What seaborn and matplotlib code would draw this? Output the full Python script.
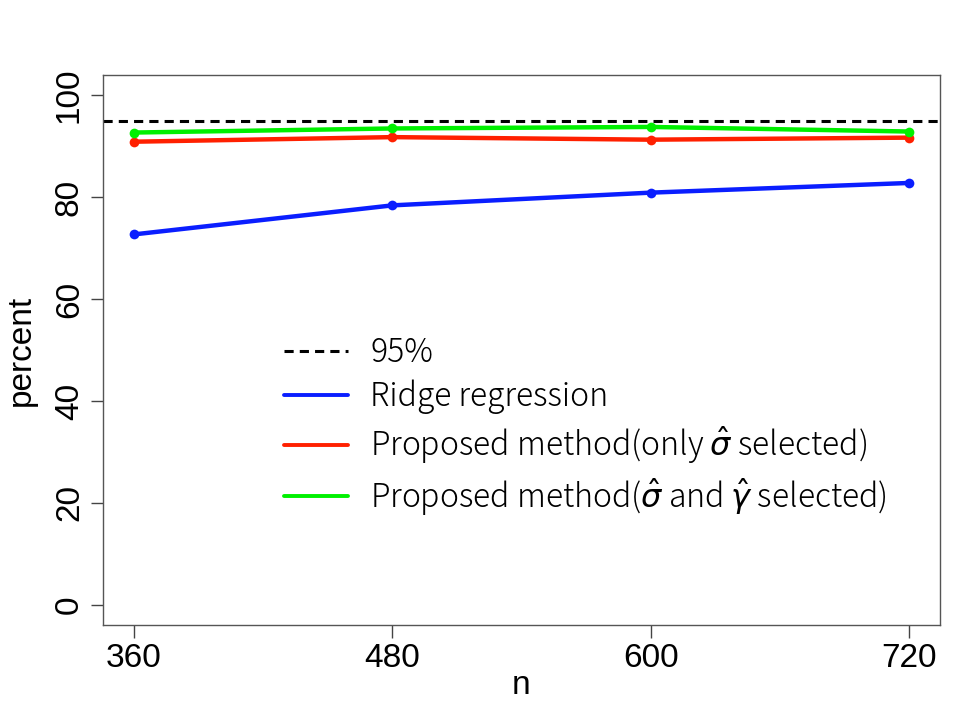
import matplotlib
matplotlib.use("Agg")
import matplotlib.pyplot as plt
from matplotlib.lines import Line2D
import pandas as pd
import seaborn as sns

sns.set_theme(style="white")

n_values = [360, 480, 600, 720]
ridge = [72.7, 78.4, 80.9, 82.8]
only_sigma = [90.9, 91.8, 91.3, 91.7]
sigma_gamma = [92.7, 93.5, 93.8, 92.9]
target = 95

methods = ["Ridge regression",
           r"Proposed method(only $\hat{\sigma}$ selected)",
           r"Proposed method($\hat{\sigma}$ and $\hat{\gamma}$ selected)"]
colors = ["#0a1eff", "#ff2000", "#00f000"]

df = pd.concat([
    pd.DataFrame({"n": n_values, "percent": vals, "method": m})
    for m, vals in zip(methods, [ridge, only_sigma, sigma_gamma])
])

tick_font = "Liberation Sans"
legend_font = ["Noto Sans CJK JP", "DejaVu Sans"]

fig = plt.figure(figsize=(9.68, 7.19), dpi=100)
ax = fig.add_axes([0.1064, 0.1307, 0.8647, 0.7650])

sns.lineplot(data=df, x="n", y="percent", hue="method", hue_order=methods,
             palette=colors, marker="o", markersize=7, markeredgewidth=0,
             linewidth=3.2, legend=False, ax=ax)
ax.axhline(target, color="black", linestyle=(0, (3, 2)), linewidth=2.2)

ax.set_xlim(345.6, 734.4)
ax.set_ylim(-4, 104)
ax.set_xticks(n_values)
ax.set_yticks([0, 20, 40, 60, 80, 100])
ax.tick_params(axis="both", direction="out", length=9, width=1,
               color="#444444", labelcolor="black", left=True, bottom=True,
               pad=4)
for lab in ax.get_xticklabels():
    lab.set_fontfamily(tick_font)
    lab.set_fontsize(24)
for lab in ax.get_yticklabels():
    lab.set_fontfamily(tick_font)
    lab.set_fontsize(24)
    lab.set_rotation(90)
    lab.set_va("center")
for s in ax.spines.values():
    s.set_color("#555555")
    s.set_linewidth(1)

ax.set_xlabel("n", fontfamily=tick_font, fontsize=24, labelpad=-3,
              color="black")
ax.set_ylabel("percent", fontfamily=tick_font, fontsize=24, labelpad=12,
              color="black")

handles = [Line2D([], [], color="black", linestyle=(0, (3, 2)), linewidth=2.2)]
handles += [Line2D([], [], color=c, linewidth=2.8) for c in colors]
labels = ["95%"] + methods
leg = ax.legend(handles, labels, frameon=False, loc="upper left",
                bbox_to_anchor=(0.182, 0.578), handlelength=2.0,
                handletextpad=0.7, labelspacing=0.3,
                prop={"family": legend_font, "size": 23, "weight": "light"})
for t in leg.get_texts():
    t.set_color("black")

fig.savefig("out.png", dpi=100)
